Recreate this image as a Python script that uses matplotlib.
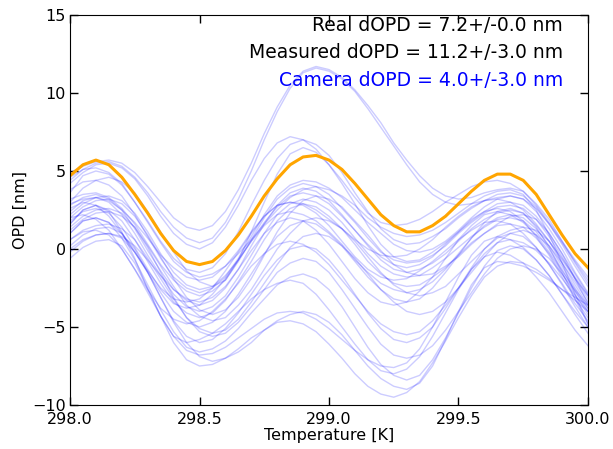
import numpy as np
import matplotlib
matplotlib.use("Agg")
import matplotlib.pyplot as plt

# temperature grid, 0.05 K steps from 298.0 to 300.0
temp = np.round(np.arange(298.0, 300.0001, 0.05), 2)

# real OPD curve (orange)
real_opd = [4.7, 5.4, 5.7, 5.4, 4.6, 3.5, 2.3, 1.0, -0.1, -0.8, -1.0, -0.8, -0.1, 0.9,
            2.1, 3.4, 4.5, 5.4, 5.9, 6.0, 5.7, 5.1, 4.2, 3.2, 2.2, 1.5, 1.1, 1.1, 1.5,
            2.1, 2.9, 3.7, 4.4, 4.8, 4.8, 4.4, 3.5, 2.2, 0.9, -0.3, -1.2]

# measured OPD curves (blue), values read at the same temperatures
measured_opd = [
    [4.9, 5.3, 5.6, 5.7, 5.5, 4.9, 4.0, 3.0, 2.0, 1.4, 1.2, 1.5, 2.4, 3.8, 5.5, 7.4, 9.1, 10.5, 11.4, 11.7, 11.5, 11.0, 10.2, 9.2, 8.1, 6.8, 5.7, 4.7, 3.9, 3.4, 3.2, 3.3, 3.6, 3.8, 3.9, 3.7, 2.9, 1.9, 0.5, -0.9, -2.2],
    [4.4, 5.1, 5.5, 5.6, 5.3, 4.6, 3.6, 2.4, 1.4, 0.7, 0.4, 0.7, 1.7, 3.2, 5.0, 7.0, 8.8, 10.3, 11.3, 11.6, 11.4, 10.9, 10.1, 9.0, 7.8, 6.6, 5.4, 4.3, 3.5, 3.0, 2.8, 2.9, 3.1, 3.3, 3.4, 3.2, 2.4, 1.3, 0.0, -1.5, -2.8],
    [4.2, 4.9, 5.4, 5.5, 5.2, 4.5, 3.4, 2.1, 1.0, 0.3, 0.0, 0.4, 1.4, 2.8, 4.4, 5.8, 6.8, 7.2, 7.0, 6.4, 5.4, 4.4, 3.3, 2.3, 1.7, 1.5, 1.6, 1.9, 2.4, 3.0, 3.5, 4.0, 4.3, 4.4, 4.2, 3.7, 2.8, 1.7, 0.5, -0.7, -1.8],
    [3.6, 4.7, 5.0, 4.8, 4.1, 3.0, 1.8, 0.5, -0.6, -1.3, -1.5, -1.2, -0.3, 1.1, 2.8, 4.4, 5.8, 6.7, 7.0, 6.7, 6.0, 4.9, 3.6, 2.4, 1.3, 0.6, 0.3, 0.4, 0.8, 1.3, 2.0, 2.6, 3.1, 3.5, 3.6, 3.4, 2.7, 1.6, 0.3, -1.1, -2.4],
    [3.0, 3.9, 4.4, 4.6, 4.3, 3.6, 2.4, 1.1, -0.2, -1.4, -2.1, -2.4, -2.0, -0.7, 1.1, 3.0, 4.8, 6.1, 6.5, 6.2, 5.4, 4.2, 2.9, 1.5, 0.3, -0.5, -0.8, -0.7, -0.2, 0.4, 1.1, 1.8, 2.4, 2.9, 3.0, 2.8, 2.1, 1.0, -0.3, -1.6, -2.9],
    [2.8, 3.3, 3.5, 3.2, 2.5, 1.3, -0.1, -1.4, -2.6, -3.3, -3.6, -3.3, -2.5, -1.3, 0.2, 1.6, 2.8, 3.6, 3.9, 3.7, 3.1, 2.2, 1.2, 0.2, -0.7, -1.3, -1.5, -1.3, -0.9, -0.3, 0.5, 1.3, 1.9, 2.3, 2.5, 2.3, 1.5, 0.5, -0.9, -2.3, -3.6],
    [2.4, 3.1, 3.3, 3.0, 2.2, 1.0, -0.4, -1.7, -2.9, -3.7, -4.0, -3.7, -3.0, -1.8, -0.4, 1.0, 2.2, 2.9, 3.2, 3.0, 2.5, 1.7, 0.7, -0.3, -1.1, -1.6, -1.8, -1.7, -1.2, -0.6, 0.1, 0.8, 1.4, 1.9, 2.0, 1.8, 1.1, 0.0, -1.3, -2.7, -4.0],
    [2.0, 2.7, 3.1, 3.2, 2.9, 2.1, 0.9, -0.5, -1.9, -3.1, -3.9, -4.2, -3.9, -3.1, -1.9, -0.4, 1.1, 2.3, 3.1, 3.4, 3.2, 2.7, 1.8, 0.9, -0.1, -1.0, -1.5, -1.7, -1.6, -1.1, -0.5, 0.3, 1.0, 1.6, 2.1, 2.2, 1.9, 1.0, -0.3, -1.9, -3.5],
    [2.6, 3.0, 2.8, 2.1, 1.0, -0.2, -1.4, -2.5, -3.2, -3.4, -3.2, -2.5, -1.4, -0.2, 1.0, 2.1, 2.8, 3.0, 2.8, 2.3, 1.5, 0.5, -0.5, -1.3, -1.8, -2.0, -1.9, -1.4, -0.8, -0.1, 0.6, 1.2, 1.7, 1.8, 1.6, 1.0, 0.1, -1.0, -2.2, -3.5, -4.6],
    [1.6, 2.5, 2.8, 2.5, 1.8, 0.6, -0.8, -2.2, -3.4, -4.1, -4.4, -4.1, -3.3, -2.1, -0.8, 0.6, 1.8, 2.6, 2.9, 2.7, 2.1, 1.3, 0.3, -0.8, -1.6, -2.2, -2.4, -2.3, -1.8, -1.2, -0.4, 0.4, 1.0, 1.5, 1.6, 1.4, 0.7, -0.3, -1.6, -2.9, -4.2],
    [3.2, 3.5, 3.6, 3.3, 2.6, 1.6, 0.3, -1.0, -2.0, -2.7, -3.0, -2.7, -2.0, -0.8, 0.6, 2.0, 3.2, 3.9, 4.2, 4.0, 3.5, 2.6, 1.7, 0.7, -0.2, -0.7, -0.9, -0.8, -0.4, 0.2, 1.0, 1.7, 2.3, 2.7, 2.8, 2.6, 1.9, 0.8, -0.5, -1.9, -3.2],
    [1.8, 2.4, 2.6, 2.3, 1.4, 0.1, -1.3, -2.6, -3.5, -3.8, -3.6, -2.9, -1.9, -0.7, 0.5, 1.5, 2.2, 2.4, 2.2, 1.8, 1.1, 0.3, -0.7, -1.5, -2.2, -2.6, -2.8, -2.6, -2.1, -1.3, -0.3, 0.7, 1.5, 2.0, 2.2, 2.0, 1.3, 0.2, -1.1, -2.5, -3.8],
    [2.2, 2.9, 3.3, 3.4, 3.1, 2.3, 1.1, -0.3, -1.5, -2.3, -2.6, -2.4, -1.7, -0.7, 0.5, 1.7, 2.7, 3.4, 3.6, 3.4, 2.9, 2.1, 1.2, 0.3, -0.5, -1.0, -1.2, -1.0, -0.5, 0.3, 1.1, 1.9, 2.4, 2.6, 2.4, 1.8, 0.8, -0.4, -1.8, -3.2, -4.4],
    [1.2, 1.9, 2.3, 2.4, 2.1, 1.4, 0.2, -1.1, -2.4, -3.6, -4.3, -4.6, -4.4, -3.6, -2.6, -1.3, 0.0, 1.0, 1.8, 2.0, 1.8, 1.3, 0.5, -0.5, -1.5, -2.3, -2.8, -3.0, -2.8, -2.4, -1.6, -0.8, 0.0, 0.8, 1.2, 1.4, 1.2, 0.5, -0.6, -1.8, -3.0],
    [2.9, 3.2, 3.3, 3.1, 2.5, 1.7, 0.7, -0.4, -1.2, -1.8, -2.0, -1.8, -1.1, -0.1, 1.1, 2.1, 2.8, 3.0, 2.9, 2.5, 1.9, 1.3, 0.6, 0.0, -0.4, -0.5, -0.4, 0.0, 0.6, 1.4, 2.1, 2.7, 3.1, 3.2, 3.0, 2.5, 1.6, 0.5, -0.7, -1.9, -3.0],
    [1.0, 1.8, 2.0, 1.7, 1.0, -0.2, -1.5, -2.8, -4.0, -4.7, -5.0, -4.7, -4.0, -2.9, -1.6, -0.3, 0.8, 1.5, 1.8, 1.6, 1.0, 0.2, -0.8, -1.8, -2.6, -3.2, -3.4, -3.2, -2.5, -1.5, -0.4, 0.7, 1.7, 2.4, 2.6, 2.3, 1.4, 0.1, -1.5, -3.2, -4.8],
    [0.6, 1.2, 1.5, 1.6, 1.3, 0.6, -0.6, -1.9, -3.2, -4.4, -5.1, -5.4, -5.2, -4.5, -3.4, -2.2, -1.0, 0.1, 0.8, 1.0, 0.8, 0.2, -0.6, -1.6, -2.6, -3.4, -4.0, -4.2, -4.0, -3.4, -2.5, -1.5, -0.5, 0.4, 1.0, 1.2, 0.9, 0.2, -0.9, -2.1, -3.4],
    [2.0, 2.2, 1.9, 1.2, 0.0, -1.3, -2.6, -3.8, -4.5, -4.8, -4.6, -4.0, -3.2, -2.2, -1.1, -0.3, 0.3, 0.5, 0.3, -0.2, -1.0, -2.0, -3.0, -4.0, -4.8, -5.3, -5.5, -5.3, -4.6, -3.6, -2.5, -1.3, -0.3, 0.4, 0.6, 0.4, -0.1, -0.9, -1.9, -3.0, -4.0],
    [0.2, 0.9, 1.3, 1.4, 1.0, 0.0, -1.5, -3.1, -4.6, -5.6, -6.0, -5.8, -5.1, -4.1, -2.9, -1.7, -0.7, 0.0, 0.2, 0.0, -0.7, -1.7, -2.9, -4.1, -5.1, -5.8, -6.0, -5.7, -5.0, -3.8, -2.5, -1.2, 0.0, 0.7, 1.0, 0.8, 0.1, -1.0, -2.3, -3.7, -5.0],
    [1.4, 2.1, 2.5, 2.6, 2.3, 1.4, 0.1, -1.5, -3.1, -4.4, -5.3, -5.6, -5.4, -4.7, -3.7, -2.6, -1.5, -0.9, -0.6, -0.8, -1.5, -2.6, -3.8, -5.0, -6.1, -6.8, -7.0, -6.8, -6.2, -5.2, -4.0, -2.8, -1.6, -0.6, 0.0, 0.2, 0.0, -0.6, -1.6, -2.7, -3.8],
    [-0.6, 0.1, 0.5, 0.6, 0.2, -0.9, -2.5, -4.3, -6.0, -7.1, -7.5, -7.4, -7.0, -6.4, -5.7, -5.2, -4.7, -4.6, -4.8, -5.3, -6.1, -7.0, -8.0, -8.8, -9.3, -9.5, -9.2, -8.5, -7.3, -5.9, -4.4, -3.0, -1.8, -1.1, -0.8, -0.9, -1.3, -1.9, -2.6, -3.3, -4.0],
    [0.0, 0.6, 0.9, 1.0, 0.7, -0.2, -1.5, -3.1, -4.7, -6.0, -6.9, -7.2, -7.0, -6.6, -6.0, -5.2, -4.6, -4.2, -4.0, -4.2, -4.7, -5.5, -6.5, -7.5, -8.3, -8.8, -9.0, -8.6, -7.5, -5.8, -4.0, -2.3, -1.2, -0.8, -0.9, -1.1, -1.5, -2.0, -2.6, -3.1, -3.6],
    [1.0, 1.8, 2.0, 1.7, 0.7, -0.7, -2.3, -3.9, -5.3, -6.3, -6.6, -6.4, -5.9, -5.1, -4.1, -3.2, -2.3, -1.8, -1.6, -1.9, -2.6, -3.7, -5.0, -6.3, -7.4, -8.1, -8.4, -8.1, -7.1, -5.7, -4.1, -2.5, -1.1, -0.1, 0.2, 0.0, -0.7, -1.7, -2.9, -4.2, -5.4],
    [1.6, 2.5, 2.8, 2.4, 1.1, -0.6, -2.6, -4.3, -5.6, -6.0, -5.8, -5.4, -4.8, -4.0, -3.2, -2.6, -2.2, -2.0, -2.2, -2.9, -3.9, -5.0, -6.1, -7.1, -7.8, -8.0, -7.7, -6.9, -5.6, -4.1, -2.6, -1.3, -0.5, -0.2, -0.4, -0.9, -1.8, -2.8, -4.0, -5.2, -6.2],
    [0.6, 1.1, 1.2, 0.9, 0.0, -1.3, -2.8, -4.3, -5.6, -6.5, -6.8, -6.7, -6.3, -5.7, -5.1, -4.5, -4.1, -4.0, -4.1, -4.5, -5.1, -5.8, -6.5, -7.1, -7.5, -7.6, -7.3, -6.4, -5.0, -3.4, -1.8, -0.4, 0.5, 0.8, 0.6, 0.1, -0.7, -1.7, -2.9, -4.0, -5.0],
    [3.8, 4.3, 4.4, 4.1, 3.4, 2.2, 0.8, -0.6, -1.8, -2.5, -2.8, -2.5, -1.8, -0.6, 0.8, 2.2, 3.4, 4.1, 4.4, 4.3, 3.9, 3.3, 2.5, 1.7, 1.0, 0.3, -0.1, -0.2, 0.0, 0.5, 1.2, 2.0, 2.7, 3.2, 3.4, 3.2, 2.6, 1.6, 0.4, -0.8, -2.0],
    [-0.2, 0.5, 0.9, 1.0, 0.8, 0.2, -0.7, -1.7, -2.6, -3.2, -3.4, -3.1, -2.4, -1.3, -0.1, 1.0, 1.7, 2.0, 1.8, 1.2, 0.3, -0.8, -1.9, -2.8, -3.4, -3.6, -3.4, -2.7, -1.8, -0.6, 0.6, 1.5, 2.2, 2.4, 2.2, 1.7, 0.9, -0.2, -1.4, -2.6, -3.6],
    [4.6, 5.1, 5.2, 4.9, 4.2, 3.0, 1.7, 0.4, -0.8, -1.5, -1.8, -1.6, -1.1, -0.3, 0.6, 1.6, 2.5, 3.3, 3.8, 4.0, 3.8, 3.4, 2.8, 2.0, 1.4, 1.0, 0.8, 0.9, 1.2, 1.7, 2.3, 2.9, 3.4, 3.7, 3.8, 3.5, 2.5, 0.9, -0.9, -2.9, -4.8],
]

info_lines = ["Real dOPD = 7.2+/-0.0 nm",
              "Measured dOPD = 11.2+/-3.0 nm",
              "Camera dOPD = 4.0+/-3.0 nm"]
info_colors = ["black", "black", "blue"]

fig = plt.figure(figsize=(6.13, 4.49), dpi=100)
ax = fig.add_axes([0.1142, 0.098, 0.845, 0.8686])

for curve in measured_opd:
    ax.plot(temp, curve, color="blue", alpha=0.2, lw=1)
ax.plot(temp, real_opd, color="orange", lw=2.2)

for i, (txt, col) in enumerate(zip(info_lines, info_colors)):
    ax.text(0.952, 0.974 - i * 0.071, txt, color=col, fontsize=13.5,
            ha="right", va="center", transform=ax.transAxes)

ax.set_xlim(298.0, 300.0)
ax.set_ylim(-10, 15)
ax.set_xticks([298.0, 298.5, 299.0, 299.5, 300.0])
ax.set_xticklabels(["%.1f" % t for t in [298.0, 298.5, 299.0, 299.5, 300.0]])
ax.set_yticks([-10, -5, 0, 5, 10, 15])
ax.tick_params(direction="in", top=True, right=True, length=6, width=1,
               labelsize=11.5)
ax.tick_params(axis="x", pad=5)
ax.tick_params(axis="y", pad=3)
ax.set_xlabel("Temperature [K]", fontsize=11.5, labelpad=1)
ax.set_ylabel("OPD [nm]", fontsize=11.5, labelpad=3)

fig.savefig("out.png", dpi=100)
